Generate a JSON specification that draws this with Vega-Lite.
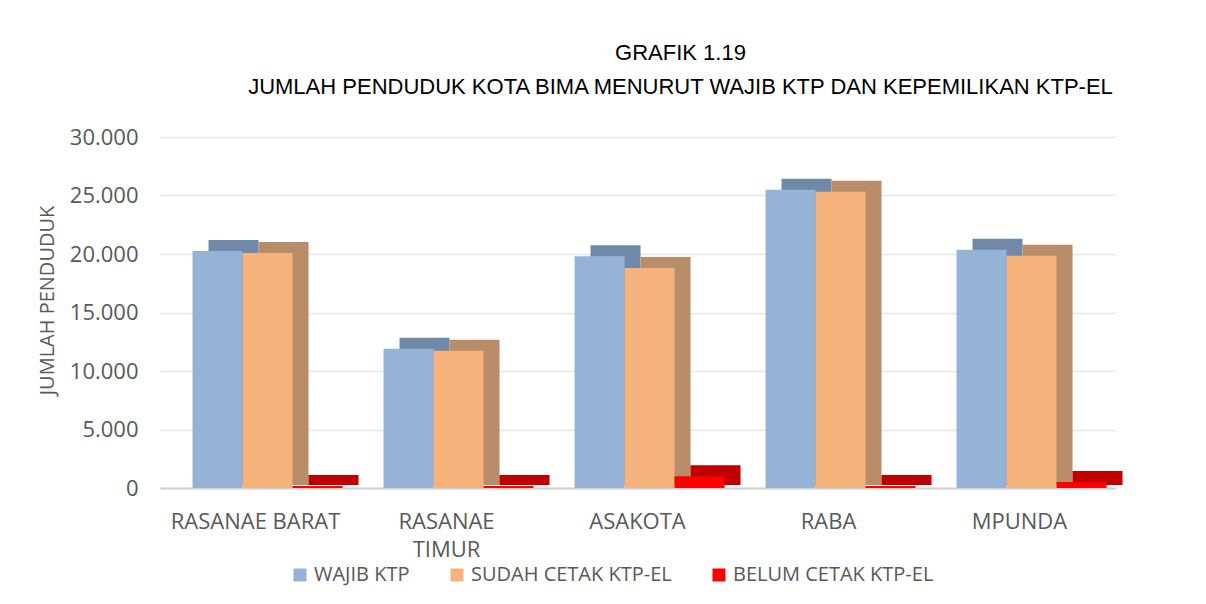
{
  "$schema": "https://vega.github.io/schema/vega-lite/v6.json",
  "width": 955,
  "height": 351,
  "autosize": {"type": "none"},
  "padding": {"left": 160, "top": 137, "right": 91, "bottom": 116},
  "background": "white",
  "title": {
    "text": ["GRAFIK 1.19", "JUMLAH PENDUDUK KOTA BIMA MENURUT WAJIB KTP DAN KEPEMILIKAN KTP-EL"],
    "font": "Liberation Sans",
    "fontSize": 22,
    "fontWeight": "normal",
    "color": "#000000",
    "lineHeight": 34,
    "anchor": "middle",
    "dx": 43,
    "offset": 27
  },
  "data": {
    "values": [
      {"kecamatan": "RASANAE BARAT", "seri": "WAJIB KTP", "jumlah": 20250},
      {"kecamatan": "RASANAE BARAT", "seri": "SUDAH CETAK KTP-EL", "jumlah": 20080},
      {"kecamatan": "RASANAE BARAT", "seri": "BELUM CETAK KTP-EL", "jumlah": 170},
      {"kecamatan": "RASANAE TIMUR", "seri": "WAJIB KTP", "jumlah": 11900},
      {"kecamatan": "RASANAE TIMUR", "seri": "SUDAH CETAK KTP-EL", "jumlah": 11730},
      {"kecamatan": "RASANAE TIMUR", "seri": "BELUM CETAK KTP-EL", "jumlah": 170},
      {"kecamatan": "ASAKOTA", "seri": "WAJIB KTP", "jumlah": 19800},
      {"kecamatan": "ASAKOTA", "seri": "SUDAH CETAK KTP-EL", "jumlah": 18800},
      {"kecamatan": "ASAKOTA", "seri": "BELUM CETAK KTP-EL", "jumlah": 1000},
      {"kecamatan": "RABA", "seri": "WAJIB KTP", "jumlah": 25500},
      {"kecamatan": "RABA", "seri": "SUDAH CETAK KTP-EL", "jumlah": 25330},
      {"kecamatan": "RABA", "seri": "BELUM CETAK KTP-EL", "jumlah": 170},
      {"kecamatan": "MPUNDA", "seri": "WAJIB KTP", "jumlah": 20370},
      {"kecamatan": "MPUNDA", "seri": "SUDAH CETAK KTP-EL", "jumlah": 19860},
      {"kecamatan": "MPUNDA", "seri": "BELUM CETAK KTP-EL", "jumlah": 510}
    ]
  },
  "encoding": {
    "x": {
      "field": "kecamatan",
      "type": "nominal",
      "sort": null,
      "scale": {"paddingInner": 0.215, "paddingOuter": 0.1075},
      "axis": {
        "title": null,
        "labelAngle": 0,
        "labelFont": "Open Sans",
        "labelFontSize": 22,
        "labelColor": "#595959",
        "labelPadding": 23,
        "labelLineHeight": 28,
        "labelExpr": "datum.label == 'RASANAE TIMUR' ? ['RASANAE', 'TIMUR'] : datum.label",
        "ticks": false,
        "domainColor": "#d0d0d0",
        "domainWidth": 2,
        "grid": false
      }
    },
    "y": {
      "field": "jumlah",
      "type": "quantitative",
      "scale": {"domain": [0, 30000], "nice": false},
      "axis": {
        "title": "JUMLAH PENDUDUK",
        "titleFont": "Open Sans",
        "titleFontSize": 20,
        "titleFontWeight": "normal",
        "titleColor": "#595959",
        "titleX": -107,
        "titleY": 163,
        "titleBaseline": "alphabetic",
        "titleAnchor": "middle",
        "values": [0, 5000, 10000, 15000, 20000, 25000, 30000],
        "labelExpr": "replace(format(datum.value, ','), ',', '.')",
        "labelFont": "Open Sans",
        "labelFontSize": 22,
        "labelColor": "#595959",
        "labelPadding": 22,
        "ticks": false,
        "domain": false,
        "gridColor": "#e8e8e8",
        "gridWidth": 1.5
      }
    }
  },
  "layer": [
    {
      "mark": {"type": "bar", "yOffset": -11, "y2Offset": -3},
      "encoding": {
        "y2": {"datum": 0},
        "xOffset": {
          "field": "seri",
          "type": "nominal",
          "sort": ["WAJIB KTP", "SUDAH CETAK KTP-EL", "BELUM CETAK KTP-EL"],
          "scale": {"range": [28, 178]}
        },
        "fill": {
          "field": "seri",
          "type": "nominal",
          "legend": null,
          "scale": {
            "domain": ["WAJIB KTP", "SUDAH CETAK KTP-EL", "BELUM CETAK KTP-EL"],
            "range": ["#7189a9", "#b98d69", "#c00000"]
          }
        }
      }
    },
    {
      "mark": {"type": "bar"},
      "encoding": {
        "xOffset": {
          "field": "seri",
          "type": "nominal",
          "sort": ["WAJIB KTP", "SUDAH CETAK KTP-EL", "BELUM CETAK KTP-EL"],
          "scale": {"range": [12, 162]}
        },
        "fill": {
          "field": "seri",
          "type": "nominal",
          "scale": {
            "domain": ["WAJIB KTP", "SUDAH CETAK KTP-EL", "BELUM CETAK KTP-EL"],
            "range": ["#95b3d7", "#f5b27a", "#ff0000"]
          },
          "legend": {
            "title": null,
            "orient": "none",
            "direction": "horizontal",
            "legendX": 130,
            "legendY": 428,
            "symbolType": "square",
            "symbolSize": 169,
            "symbolStrokeWidth": 0,
            "labelFont": "Open Sans",
            "labelFontSize": 20,
            "labelColor": "#595959",
            "labelOffset": 4,
            "labelLimit": 400,
            "columnPadding": 37
          }
        }
      }
    }
  ],
  "resolve": {"scale": {"fill": "independent", "xOffset": "independent"}, "legend": {"fill": "independent"}},
  "config": {
    "view": {"stroke": null}
  }
}
